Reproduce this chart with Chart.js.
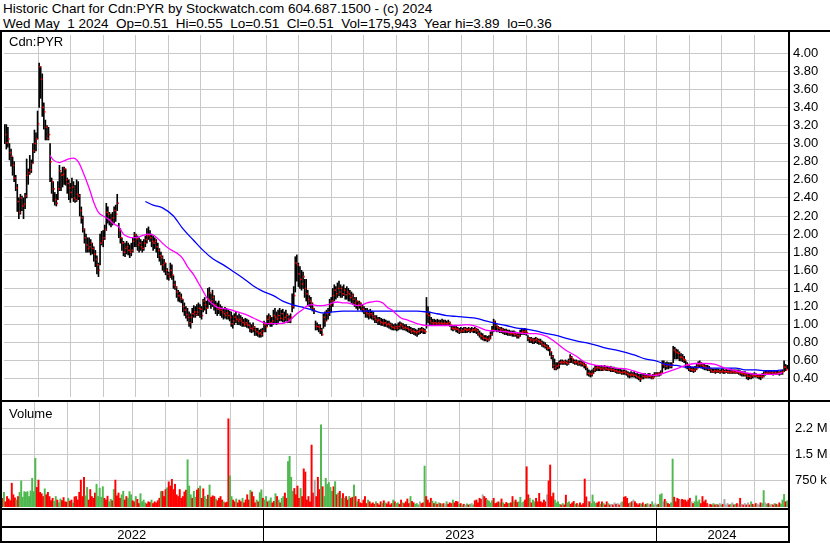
<!DOCTYPE html>
<html>
<head>
<meta charset="utf-8">
<script src="https://cdn.jsdelivr.net/npm/chart.js@4.4.1/dist/chart.umd.min.js"></script>
<style>
body { margin: 0; background: #fff; }
#wrap { position: relative; width: 830px; height: 543px; overflow: hidden; background: #fff;
        font-family: "Liberation Sans", Arial, sans-serif; color: #000; }
.txt { position: absolute; font-size: 13px; line-height: 13px; white-space: pre; }
.head { font-size: 13.5px; }
.rule { position: absolute; background: #000; }
canvas { position: absolute; left: 0; }
</style>
</head>
<body>
<div id="wrap">
  <div class="txt head" style="left:3px;top:2px">Historic Chart for Cdn:PYR by Stockwatch.com 604.687.1500 - (c) 2024</div>
  <div class="txt head" style="left:3px;top:17px">Wed May  1 2024  Op=0.51  Hi=0.55  Lo=0.51  Cl=0.51  Vol=175,943  Year hi=3.89  lo=0.36</div>
  <canvas id="price" width="830" height="370" style="top:31px"></canvas>
  <canvas id="volume" width="830" height="141" style="top:402px"></canvas>
  <div class="txt" style="left:9px;top:35px">Cdn:PYR</div>
  <div class="txt" style="left:9px;top:407px">Volume</div>
  <div class="rule" style="left:0;top:30px;width:830px;height:2px"></div>
  <div class="rule" style="left:0;top:400px;width:830px;height:2px"></div>
  <div class="rule" style="left:0;top:30px;width:2px;height:513px"></div>
  <div class="rule" style="left:788px;top:30px;width:2px;height:513px"></div>
</div>
<script>
// daily bars, May 2022 - May 1 2024, prices in cents
const highCents = [
  321,321,318,300,294,285,280,265,255,240, 244,242,240,245,283,272,287,282,300,315,
  312,336,389,385,377,345,326,320,318,300, 262,258,246,244,258,276,268,274,274,272,
  262,260,256,262,258,254,260,258,244,230, 220,206,200,196,196,194,190,186,182,176,
  168,200,203,204,210,234,230,224,222,224, 230,232,244,212,206,196,192,190,192,190,
  188,190,196,202,200,198,196,194,192,194, 198,206,208,204,200,198,196,194,190,184,
  180,176,172,168,162,158,168,166,154,148, 142,138,136,134,128,124,120,118,114,112,
  118,121,120,122,124,122,120,128,130,126, 140,141,134,138,132,126,124,126,122,120,
  118,119,118,116,115,114,110,112,114,110, 112,110,108,106,107,106,105,102,100,102,
  98,96,96,94,95,96,104,102,110,112, 110,108,116,118,114,116,118,116,117,114,
  116,112,110,112,134,142,175,177,168,164, 160,158,150,150,138,132,130,124,118,104,
  102,100,100,96,112,114,116,118,128,130, 140,144,142,146,148,144,142,144,140,142,
  140,138,136,134,130,130,126,126,124,122, 120,118,118,116,117,115,114,110,110,108,
  108,107,106,106,105,104,104,102,101,100, 101,100,102,103,102,101,100,100,98,98,
  97,96,96,95,94,96,96,97,96,95, 130,120,114,108,106,106,105,106,105,105,
  106,105,105,104,105,103,99,98,98,98, 97,96,97,96,97,97,96,97,96,97,
  96,97,96,95,93,91,90,88,88,87, 88,92,98,106,104,100,98,97,97,96,
  95,95,94,94,93,93,93,92,91,90, 94,96,95,96,95,88,86,86,85,85,
  86,85,84,84,82,81,80,78,77,74, 70,66,62,58,58,60,61,61,60,61,
  60,62,67,65,62,61,61,60,60,60, 59,58,56,52,50,49,50,52,55,54,
  55,54,55,54,55,54,54,53,54,53, 53,52,52,51,51,50,50,50,49,48,
  47,48,47,48,46,46,45,45,46,46, 46,45,46,46,44,45,47,47,47,47,
  49,60,60,58,59,58,58,58,76,75, 73,72,70,68,67,65,60,58,55,54,
  53,53,54,56,59,60,58,57,56,55, 55,54,52,51,51,51,51,51,50,51,
  51,50,51,50,50,51,50,50,50,50, 50,49,48,48,48,46,46,45,46,46,
  47,46,45,45,45,46,48,49,49,49, 49,49,48,49,49,49,48,49,50,60,56,55
];
const lowCents = [
  300,294,296,282,275,265,258,248,225,217, 222,226,217,228,240,255,266,268,278,290,
  292,305,340,350,330,316,304,304,304,258, 245,236,232,231,238,248,248,252,255,254,
  245,238,235,240,236,235,236,238,220,212, 202,190,180,180,180,177,178,170,164,156,
  153,166,188,186,194,204,212,210,208,210, 212,214,226,196,190,182,176,175,178,177,
  174,176,180,186,186,182,180,182,180,182, 186,190,194,192,186,182,184,180,174,170,
  166,160,158,155,150,149,152,150,140,139, 130,126,125,124,114,110,107,104,98,96,
  102,108,108,110,110,108,106,114,116,112, 118,122,118,120,116,112,110,112,110,108,
  106,107,106,106,104,98,96,100,102,100, 100,99,98,98,98,97,96,92,91,92,
  88,88,87,86,86,87,92,92,98,100, 98,98,100,102,100,102,104,104,103,102,
  104,102,102,102,114,118,136,148,142,140, 138,140,130,126,122,120,118,115,112,94,
  94,92,90,88,96,98,104,106,110,114, 120,126,128,130,132,130,130,132,128,128,
  126,126,124,122,120,118,116,118,116,114, 112,108,108,106,107,106,105,102,102,100,
  100,99,99,98,98,97,96,95,94,94, 94,93,94,95,95,94,94,93,92,91,
  90,90,89,88,87,89,90,91,90,90, 96,102,100,100,99,99,99,99,100,99,
  99,99,99,99,99,98,94,93,94,92, 91,90,91,91,91,91,91,92,91,92,
  91,91,90,88,86,84,83,82,82,81, 82,84,88,92,93,92,92,91,91,90,
  89,89,88,88,88,87,87,87,85,85, 87,89,89,89,88,82,80,80,79,79,
  80,79,78,78,76,75,74,72,71,66, 62,52,50,50,51,52,56,56,56,56,
  55,56,58,58,57,56,56,55,55,54, 54,52,50,44,43,42,43,46,48,49,
  49,49,49,49,50,49,49,49,48,48, 48,47,46,46,46,45,45,45,44,42,
  41,42,42,42,41,40,39,37,40,40, 41,41,41,41,40,40,42,43,43,43,
  44,47,52,50,51,51,52,52,58,62, 62,62,60,60,59,58,52,51,49,48,
  48,47,48,50,52,53,52,51,50,50, 49,49,47,47,47,46,47,47,46,47,
  46,46,47,46,46,46,46,46,46,46, 45,44,43,43,43,40,39,40,40,41,
  42,42,41,40,39,41,42,44,45,45, 45,45,44,45,45,45,44,45,45,48,49,51
];
const closeCents = [
  310,301,305,290,286,276,262,251,236,224, 240,231,233,242,265,268,271,278,292,300,
  305,322,385,371,340,335,318,306,310,280, 258,250,238,234,250,270,265,266,272,260,
  256,251,246,252,240,238,244,242,226,218, 205,196,188,184,186,190,184,178,172,166,
  160,190,193,196,205,224,222,216,213,218, 226,222,234,204,196,190,180,184,186,182,
  180,182,192,199,195,188,190,186,184,190, 194,198,199,196,192,190,192,186,182,176,
  174,166,168,160,156,153,160,155,144,141, 136,132,130,128,120,116,111,108,102,108,
  112,114,111,114,118,117,110,126,122,118, 128,135,126,130,122,120,117,118,116,114,
  112,110,113,110,108,101,104,108,106,104, 106,104,102,100,102,100,99,96,95,97,
  94,92,90,91,89,93,100,97,106,108, 102,104,110,108,106,110,107,112,106,108,
  110,106,104,108,120,132,168,166,156,150, 145,153,140,134,128,126,124,118,115,98,
  98,97,94,89,108,104,112,114,122,126, 132,138,134,140,136,140,134,138,133,136,
  134,130,132,128,124,126,122,124,120,117, 115,113,112,110,112,110,108,106,104,105,
  103,102,101,102,100,101,100,98,97,96, 98,96,98,100,98,96,97,96,95,94,
  92,93,92,91,92,93,94,94,93,92, 112,110,104,102,101,102,101,102,101,102,
  101,102,101,101,102,100,96,95,96,95, 94,92,94,93,95,94,94,95,93,94,
  94,95,93,90,88,87,85,85,84,83, 85,89,94,103,99,97,96,94,95,92,
  93,92,91,90,91,90,89,90,88,87, 91,92,92,93,91,85,83,84,82,83,
  84,82,81,80,78,77,76,74,74,70, 65,55,52,54,55,58,59,58,59,58,
  57,60,64,62,59,58,59,57,58,57, 56,55,53,46,46,45,46,50,52,53,
  52,51,52,50,52,51,50,51,50,50, 49,49,48,48,47,47,48,47,46,45,
  44,45,44,44,43,42,41,40,43,42, 43,42,43,43,41,42,45,45,46,45,
  47,56,56,54,56,55,54,56,72,70, 69,68,64,64,62,61,56,55,51,50,
  50,49,51,54,56,57,55,54,53,52, 51,51,49,48,49,48,49,48,48,49,
  48,48,48,48,47,48,48,47,48,47, 47,46,46,45,45,43,43,42,44,43,
  44,43,43,43,42,43,46,46,47,46, 47,47,46,47,46,47,46,47,48,53,50,51
];
// daily volume, thousands of shares
const volumeK = [
  490,250,420,150,300,230,180,680,350,260, 200,300,420,745,280,440,420,440,300,460,
  820,440,1390,560,770,420,380,300,520,350, 420,300,180,250,160,300,200,120,230,180,
  270,150,140,250,170,200,120,290,300,200, 420,770,300,850,320,560,200,500,300,250,
  400,650,300,540,280,580,250,200,310,150, 220,180,500,770,320,400,250,350,450,200,
  300,250,440,350,180,150,300,220,100,380, 150,200,120,90,150,130,200,100,150,120,
  180,250,440,450,300,500,550,720,600,790, 500,650,350,300,500,250,300,430,480,1350,
  600,350,250,450,280,480,530,600,250,520, 300,220,340,630,280,320,300,230,180,250,
  300,200,150,120,140,2520,890,300,200,150, 230,120,200,150,250,120,200,350,200,480,
  430,300,120,200,150,410,490,250,200,300, 150,180,260,120,160,380,300,200,120,250,
  300,400,250,1300,1450,850,450,530,350,600, 250,530,300,1090,1000,200,300,150,1770,400,
  770,300,850,500,2350,580,300,820,650,700, 560,450,580,725,350,400,450,250,380,250,
  300,200,300,250,280,630,300,150,220,120, 100,200,300,100,200,150,90,120,80,150,
  100,60,150,100,180,120,90,150,60,100, 200,150,100,120,80,200,120,100,150,230,
  100,300,160,120,80,100,60,150,100,120, 1170,300,200,120,250,170,100,150,80,120,
  100,80,100,60,150,80,120,100,200,120, 160,150,80,100,60,80,50,90,60,80,
  100,60,180,200,120,250,220,350,300,250, 200,170,120,180,250,100,120,150,120,230,
  120,80,130,100,110,120,300,150,200,130, 150,280,120,150,200,1150,350,250,120,200,
  150,250,150,390,150,120,200,150,350,745, 1200,300,400,200,120,150,80,60,100,60,
  340,120,150,80,120,160,80,100,60,120, 60,100,800,290,150,150,100,343,150,100,
  120,150,80,150,100,60,150,100,60,80, 60,120,80,100,60,120,150,280,300,250,
  100,120,150,200,150,100,60,100,80,120, 60,80,100,60,80,150,60,100,60,80,
  350,380,150,220,150,100,80,120,1370,280, 150,250,220,200,220,200,200,150,200,250,
  150,100,150,320,150,200,100,300,150,200, 100,60,80,60,100,60,80,60,100,60,
  80,220,60,100,60,80,120,60,80,100, 60,250,80,60,100,60,120,60,150,80,
  60,100,80,60,120,100,470,120,80,100, 60,80,60,100,80,60,120,80,200,360,150,176
];

// moving averages: bar index and value in cents
const maShortIdx = [29,31,35,38,41,44,47,50,54,57,60,63,66,70,73,76,79,82,86,89,92,95,98,101,105,108,111,114,117,121,124,127,130,133,136,143,149,156,162,168,175,181,184,187,191,194,197,200,203,207,210,213,216,219,222,226,229,232,235,238,242,245,248,251,254,258,264,270,277,283,289,296,302,308,315,321,328,334,340,347,353,359,366,372,379,385,391,398,404,410,417,423,430,436,442,449,455,461,468,474,481,487,493,498];
const maShortVal = [287,282,279,281,283,284,280,269,251,235,224,220,217,211,208,200,197,196,197,199,200,199,195,190,184,181,178,173,164,155,146,137,128,123,119,117,114,110,105,101,101,103,107,112,117,121,122,121,121,122,124,125,124,124,123,121,122,124,125,126,124,119,116,111,107,105,101,99,99,99,99,100,98,94,93,92,91,90,90,87,80,72,65,58,55,54,52,51,48,45,44,47,51,55,57,57,56,52,49,47,45,45,45,47];
const maLongIdx = [90,95,101,108,114,121,127,133,140,146,152,159,165,172,178,184,191,197,203,210,216,222,229,235,242,248,254,264,270,277,283,289,296,302,308,315,321,328,334,340,347,353,359,366,372,379,385,391,398,404,410,417,423,430,436,442,449,455,461,468,474,481,487,493,498];
const maLongVal = [236,232,229,220,206,193,182,173,166,159,152,143,137,132,126,122,119,116,113,114,115,115,115,115,115,115,115,115,114,112,110,109,108,107,104,101,99,96,95,93,90,88,85,82,80,77,74,72,69,66,62,60,56,55,53,53,52,52,52,52,50,50,49,49,50];

// axis ticks
const monthTicks = [21.4,42.2,63.1,83.9,104.8,125.6,146.4,167.3,188.1,209,229.8,250.6,271.5,292.3,313.2,334,354.8,375.7,396.5,417.4,438.2,459,479.9];
const priceTicks = [0.4,0.6,0.8,1.0,1.2,1.4,1.6,1.8,2.0,2.2,2.4,2.6,2.8,3.0,3.2,3.4,3.6,3.8,4.0];
const volumeTicks = [750, 1500, 2250];
const volumeTickLabels = ['750 k', '1.5 M', '2.2 M'];
const yearStarts = [167.3, 417.4];
const yearLabels = ['2022', '2023', '2024'];

const N = closeCents.length;
const FONT = { family: '"Liberation Sans", Arial, sans-serif', size: 13 };
const GRID = '#c8c8c8';

function xScale() {
    return {
        type: 'linear',
        min: -0.5,
        max: N - 0.5,
        offset: false,
        grid: { color: GRID, offset: false, drawTicks: false },
        border: { display: false },
        ticks: { display: false },
        afterBuildTicks: s => { s.ticks = monthTicks.map(v => ({ value: v })); },
        afterFit: s => { s.height = 0; s.paddingLeft = 0; s.paddingRight = 0; }
    };
}

// right-hand axis: fixed width, no extra room for the end labels
function fitRight(s) {
    s.width = 42;
    s.paddingTop = 0;
    s.paddingBottom = 0;
}

const common = {
    responsive: false,
    animation: false,
    devicePixelRatio: 1,
    events: [],
    plugins: { legend: { display: false }, tooltip: { enabled: false } }
};

new Chart(document.getElementById('price'), {
    type: 'bar',
    data: {
        datasets: [
            {
                type: 'line',
                data: maShortIdx.map((x, k) => ({ x: x, y: maShortVal[k] / 100 })),
                borderColor: '#ff00ff',
                borderWidth: 1.3,
                pointRadius: 0,
                cubicInterpolationMode: 'monotone',
                order: 0
            },
            {
                type: 'line',
                data: maLongIdx.map((x, k) => ({ x: x, y: maLongVal[k] / 100 })),
                borderColor: '#0000ff',
                borderWidth: 1.3,
                pointRadius: 0,
                cubicInterpolationMode: 'monotone',
                order: 0
            },
            {
                type: 'scatter',
                data: closeCents.map((c, i) => ({ x: i + 0.6, y: c / 100 })),
                pointStyle: 'rect',
                pointRadius: 1.1,
                backgroundColor: '#ff0000',
                borderWidth: 0,
                order: 1
            },
            {
                type: 'bar',
                data: highCents.map((h, i) => ({ x: i, y: [lowCents[i] / 100, h / 100] })),
                backgroundColor: '#000',
                barThickness: 1,
                grouped: false,
                order: 2
            }
        ]
    },
    options: {
        ...common,
        layout: { padding: 0 },
        scales: {
            x: xScale(),
            y: {
                position: 'right',
                min: 0.2,
                max: 4.2,
                grid: { color: GRID, drawTicks: false },
                border: { display: false },
                ticks: { color: '#000', font: FONT, padding: 5, callback: v => Number(v).toFixed(2) },
                afterBuildTicks: s => { s.ticks = priceTicks.map(v => ({ value: v })); },
                afterFit: fitRight
            }
        }
    }
});

// year band under the volume panel
const yearBand = {
    id: 'yearBand',
    afterDraw(chart) {
        const { ctx, chartArea, scales } = chart;
        const edges = [chartArea.left, ...yearStarts.map(v => scales.x.getPixelForValue(v)), chartArea.right];
        const top = chartArea.bottom + 1;
        const w = chartArea.right + 2;
        ctx.save();
        ctx.fillStyle = '#000';
        ctx.fillRect(0, top, w, 2);
        ctx.fillRect(0, top + 18, w, 2);
        ctx.fillRect(0, top + 33, w, 2);
        edges.slice(1, -1).forEach(px => ctx.fillRect(Math.round(px), top, 1, 35));
        ctx.font = '13px "Liberation Sans", Arial, sans-serif';
        ctx.textAlign = 'center';
        ctx.textBaseline = 'middle';
        yearLabels.forEach((t, k) => ctx.fillText(t, (edges[k] + edges[k + 1]) / 2, top + 27));
        ctx.restore();
    }
};

new Chart(document.getElementById('volume'), {
    type: 'bar',
    data: {
        datasets: [{
            data: volumeK.map((v, i) => ({ x: i, y: v })),
            backgroundColor: volumeK.map((v, i) => {
                if (i === 0 || closeCents[i] > closeCents[i - 1]) return '#4fb84f';
                if (closeCents[i] < closeCents[i - 1]) return '#ff0000';
                return '#a8a8a8';
            }),
            barThickness: 1.3,
            grouped: false
        }]
    },
    options: {
        ...common,
        layout: { padding: { top: 0, bottom: 36 } },
        scales: {
            x: xScale(),
            y: {
                position: 'right',
                min: 0,
                max: 3000,
                grid: { color: GRID, drawTicks: false },
                border: { display: false },
                ticks: {
                    color: '#000', font: FONT, padding: 7,
                    callback: v => volumeTickLabels[volumeTicks.indexOf(v)]
                },
                afterBuildTicks: s => { s.ticks = volumeTicks.map(v => ({ value: v })); },
                afterFit: fitRight
            }
        }
    },
    plugins: [yearBand]
});
</script>
</body>
</html>
